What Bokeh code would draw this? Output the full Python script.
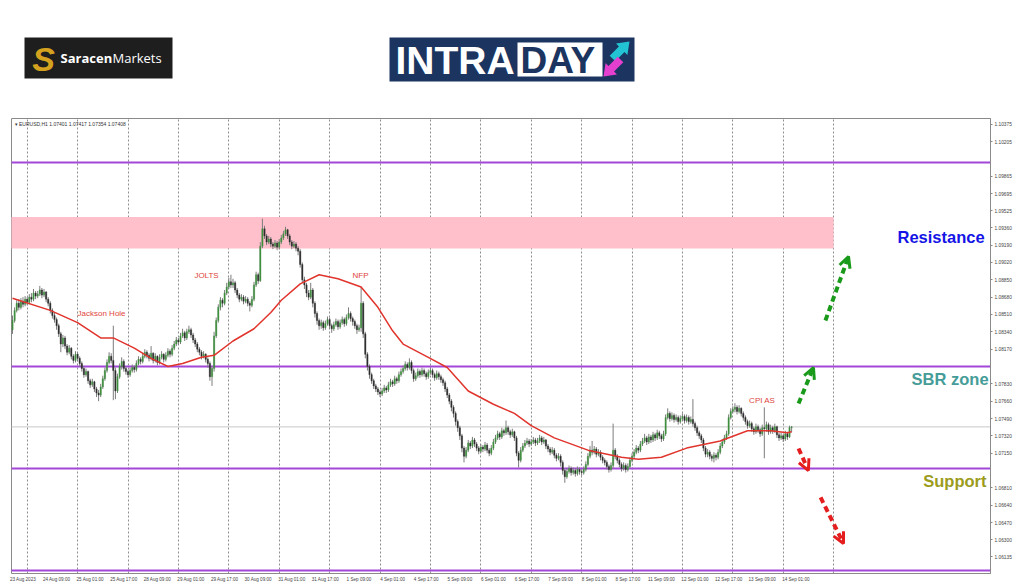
from bokeh.plotting import figure
from bokeh.layouts import column
from bokeh.models import (Range1d, FixedTicker, PrintfTickFormatter, Label, Arrow,
                          OpenHead, ColumnDataSource)
from bokeh.embed import file_html
from bokeh.resources import INLINE
from bokeh.core.properties import value

# ---------------- data (EURUSD H1, prices in pips above 1.0600) ----------------
BASE = 1.06
PIP = 0.0001

open_pips = [
 236,245,255,262,258,264,261,266,263,268, 266,272,269,271,275,270,273,266,262,255,
 250,246,240,232,222,228,220,214,218,210, 206,212,208,203,198,192,195,186,182,185,
 178,174,172,180,188,196,204,210,206,196, 176,190,200,205,198,195,192,196,199,197,
 203,207,205,210,214,211,208,213,206,210, 204,209,212,207,211,215,212,218,222,226,
 224,230,233,228,234,236,231,226,222,217, 214,210,212,207,203,190,198,230,245,258,
 265,262,272,278,283,280,282,275,270,266, 268,264,266,262,260,266,280,290,284,318,
 335,328,322,325,320,318,321,317,322,326, 330,334,328,322,318,320,316,313,300,285,
 280,272,268,275,262,252,245,240,243,238, 242,246,240,237,241,244,239,243,246,242,
 248,252,247,244,240,236,238,262,232,212, 200,192,186,181,178,175,173,176,179,177,
 182,185,183,188,186,192,195,198,202,199, 204,196,188,191,195,192,196,193,190,194,
 196,192,189,193,190,187,184,178,172,166, 160,154,146,140,132,120,112,118,125,122,
 128,124,120,117,121,119,123,118,115,120, 126,130,134,131,137,135,140,136,133,136,
 130,115,108,118,122,125,127,124,126,128, 125,127,130,126,128,122,119,116,118,113,
 110,112,106,98,92,97,100,96,98,95, 99,97,96,99,104,112,118,116,119,114,
 116,111,108,106,102,99,103,118,112,108, 104,100,103,99,102,108,112,116,120,118,
 124,127,130,126,131,128,133,130,135,132, 129,134,150,154,149,152,148,150,146,149,
 151,147,150,146,148,144,140,135,132,128, 120,114,116,112,110,113,111,116,122,126,
 130,134,150,156,158,160,156,159,154,150, 146,142,144,139,136,141,138,134,140,139,
 143,136,140,137,141,133,130,132,129,134, 131,140.1]

close_pips = [
 245,255,262,258,264,261,266,263,268,266, 272,269,271,275,270,273,266,262,255,250,
 246,240,232,222,228,220,214,218,210,206, 212,208,203,198,192,195,186,182,185,178,
 174,172,180,188,196,204,210,206,196,176, 190,200,205,198,195,192,196,199,197,203,
 207,205,210,214,211,208,213,206,210,204, 209,212,207,211,215,212,218,222,226,224,
 230,233,228,234,236,231,226,222,217,214, 210,212,207,203,190,198,230,245,258,265,
 262,272,278,283,280,282,275,270,266,268, 264,266,262,260,266,280,290,284,318,335,
 328,322,325,320,318,321,317,322,326,330, 334,328,322,318,320,316,313,300,285,280,
 272,268,275,262,252,245,240,243,238,242, 246,240,237,241,244,239,243,246,242,248,
 252,247,244,240,236,238,262,232,212,200, 192,186,181,178,175,173,176,179,177,182,
 185,183,188,186,192,195,198,202,199,204, 196,188,191,195,192,196,193,190,194,196,
 192,189,193,190,187,184,178,172,166,160, 154,146,140,132,120,112,118,125,122,128,
 124,120,117,121,119,123,118,115,120,126, 130,134,131,137,135,140,136,133,136,130,
 115,108,118,122,125,127,124,126,128,125, 127,130,126,128,122,119,116,118,113,110,
 112,106,98,92,97,100,96,98,95,99, 97,96,99,104,112,118,116,119,114,116,
 111,108,106,102,99,103,118,112,108,104, 100,103,99,102,108,112,116,120,118,124,
 127,130,126,131,128,133,130,135,132,129, 134,150,154,149,152,148,150,146,149,151,
 147,150,146,148,144,140,135,132,128,120, 114,116,112,110,113,111,116,122,126,130,
 134,150,156,158,160,156,159,154,150,146, 142,144,139,136,141,138,134,140,139,143,
 136,140,137,141,133,130,132,129,134,131, 140.1,140.8]

high_pips = [
 250,258,265,266,267,268,269,268,271,272, 276,274,274,279,277,276,274,268,264,257,
 253,248,242,234,231,230,222,221,219,212, 215,214,210,205,200,198,196,188,188,186,
 180,177,183,191,199,207,214,213,240,199, 193,203,209,207,200,197,199,202,201,206,
 210,209,213,217,216,213,220,214,213,211, 212,215,213,214,218,217,221,225,229,228,
 233,237,235,237,240,238,233,228,224,219, 216,215,213,209,205,200,234,248,261,268,
 267,275,282,287,290,286,284,277,272,271, 270,269,268,264,269,283,293,292,322,345,
 338,330,328,327,322,324,323,325,329,333, 337,335,330,324,323,322,318,315,302,288,
 282,275,282,277,264,254,247,246,245,245, 249,248,242,244,247,246,246,249,248,251,
 258,254,249,246,242,241,278,264,234,214, 202,194,188,183,180,177,179,182,181,185,
 188,187,191,190,195,198,201,205,204,208, 206,198,194,198,197,199,198,195,197,199,
 198,194,196,195,192,189,186,180,174,168, 162,156,148,142,134,122,121,128,127,131,
 130,126,122,124,123,126,125,120,123,129, 133,137,136,140,139,147,142,138,139,137,
 132,117,121,125,128,130,129,129,131,130, 130,133,132,131,129,124,121,121,120,115,
 115,114,108,100,100,103,102,101,100,102, 101,99,102,107,115,122,127,122,121,119,
 118,113,110,108,104,106,144,120,114,110, 106,106,105,105,111,115,119,123,122,127,
 130,134,132,134,133,136,135,138,137,134, 137,153,159,156,155,154,153,152,152,154,
 153,153,152,151,168,146,142,137,134,130, 122,119,118,114,116,115,119,125,129,133,
 137,153,159,161,164,162,162,160,156,152, 148,147,146,141,144,143,140,143,160,146,
 145,143,142,144,142,135,135,134,137,136, 142,141.7]

low_pips = [
 232,243,253,255,256,258,259,260,261,263, 264,266,267,269,267,268,263,259,252,247,
 243,236,229,214,219,217,211,212,207,203, 204,205,200,195,189,190,183,179,180,175,
 170,166,170,178,186,194,202,203,167,168, 174,188,197,195,192,189,190,194,194,195,
 201,202,203,208,208,205,206,203,204,201, 202,207,204,205,209,209,210,216,220,221,
 222,228,225,226,232,228,223,219,214,211, 207,208,204,199,186,181,195,228,243,255,
 258,260,270,276,277,277,272,267,263,264, 261,262,259,254,258,264,278,281,283,316,
 325,319,320,317,315,316,314,315,320,324, 328,325,319,315,316,313,309,297,282,276,
 268,265,266,258,248,241,236,237,235,236, 240,237,233,235,239,236,237,241,239,240,
 246,244,240,237,232,234,234,228,208,196, 188,183,178,175,172,170,171,174,174,175,
 180,180,181,183,184,190,193,196,196,197, 193,185,186,189,189,190,190,187,188,192,
 189,186,187,187,184,181,175,169,163,156, 150,142,136,128,116,106,110,116,119,120,
 121,117,114,115,116,117,115,112,113,118, 124,128,128,129,132,133,133,130,131,127,
 112,101,106,116,120,123,121,122,124,122, 123,125,123,124,119,116,113,114,110,107,
 108,102,94,86,90,95,93,94,92,93, 94,93,94,97,102,110,113,114,111,112,
 108,105,103,99,96,97,100,109,105,101, 97,98,96,97,100,106,110,114,115,116,
 122,125,123,124,125,126,127,128,129,126, 127,132,148,146,147,145,146,143,144,147,
 144,145,143,144,141,137,132,129,125,117, 111,111,109,107,106,108,109,114,120,124,
 128,132,148,154,155,153,154,151,147,143, 139,140,136,133,134,135,131,132,110,136,
 133,134,134,135,130,127,128,126,127,128, 130,135.4]

# moving average
ma_bars = [0,18,31,42,48,58,66,74,81,90,96,105,115,123,128,137,146,155,166,174,181,
           186,198,207,217,229,239,247,258,274,290,298,309,321,337,350,361,369,371]
ma_pips = [267,255,243,228,228,218,208,200,203,209,211,225,237,253,265,281,290,286,278,258,235,
           222,209,199,176,163,154,142,130,118,111,109,111,120,127,137,137,135,136]

# axis labels
x_label_bars = list(range(0, 369, 16))
x_labels = ["23 Aug 2023", "24 Aug 09:00", "25 Aug 01:00", "25 Aug 17:00", "28 Aug 09:00",
            "29 Aug 01:00", "29 Aug 17:00", "30 Aug 09:00", "31 Aug 01:00", "31 Aug 17:00",
            "1 Sep 09:00", "4 Sep 01:00", "4 Sep 17:00", "5 Sep 09:00", "6 Sep 01:00",
            "6 Sep 17:00", "7 Sep 09:00", "8 Sep 01:00", "8 Sep 17:00", "11 Sep 09:00",
            "12 Sep 01:00", "12 Sep 17:00", "13 Sep 09:00", "14 Sep 01:00"]
day_sep_bars = list(range(7, 392, 24))
y_ticks = [1.10375, 1.10205, 1.09865, 1.09695, 1.09525, 1.09360, 1.09190, 1.09020, 1.08850,
           1.08680, 1.08510, 1.08340, 1.08170, 1.07830, 1.07660, 1.07490, 1.07320, 1.07150,
           1.06810, 1.06640, 1.06470, 1.06300, 1.06135]

key_levels = [1.10000, 1.08000, 1.07000, 1.06000]
last_price = 1.07408
zone_low, zone_high, zone_end_bar = 1.09157, 1.09466, 391

event_names = ["Jackson Hole", "JOLTS", "NFP", "CPI AS"]
event_bars = [42.4, 92.4, 165.7, 357.0]
event_levels = [1.08520, 1.08892, 1.08892, 1.07665]

zone_names = ["Resistance", "SBR zone", "Support"]
zone_colors = ["#1414e6", "#459c98", "#9c9c1c"]
zone_levels = [1.09274, 1.07882, 1.06882]
zone_right_bar = [462.9, 464.8, 463.8]

arrow_x0 = [387.1, 374.3, 374.3, 384.8]
arrow_y0 = [1.08451, 1.07637, 1.07196, 1.06716]
arrow_x1 = [398.1, 381.4, 379.0, 395.7]
arrow_y1 = [1.09078, 1.07990, 1.06980, 1.06265]
arrow_colors = ["#1a9a1a", "#1a9a1a", "#e41e1e", "#e41e1e"]

header = "\u25be EURUSD,H1  1.07401 1.07417 1.07354 1.07408"

# ---------------- layout constants (page pixels) ----------------
W = 1022
LOGO_H = 100
CHART_H = 486
BORDER_L, BORDER_R = 11, 32

# ---------------- chart ----------------
p = figure(width=W, height=CHART_H, output_backend="svg", toolbar_location=None,
           x_range=Range1d(-0.476, 465.7), y_range=Range1d(1.059706, 1.104314),
           y_axis_location="right", min_border_left=BORDER_L, min_border_right=BORDER_R,
           min_border_top=18, min_border_bottom=13)
p.background_fill_color = "white"
p.outline_line_color = "#8a8a8a"
p.ygrid.visible = False
p.xgrid.ticker = FixedTicker(ticks=day_sep_bars)
p.xgrid.grid_line_color = "#8c8c8c"
p.xgrid.grid_line_dash = "2 2"
p.xgrid.grid_line_width = 1

tick_pos = [b + 5 for b in x_label_bars]
p.xaxis.ticker = FixedTicker(ticks=tick_pos)
p.xaxis.major_label_overrides = {t: l for t, l in zip(tick_pos, x_labels)}
p.xaxis.major_label_text_font = "Liberation Sans"
p.xaxis.major_label_text_font_size = "4.6px"
p.xaxis.major_label_text_color = "#444444"
p.xaxis.major_tick_out = 0
p.xaxis.major_tick_in = 0
p.xaxis.minor_tick_out = 0
p.xaxis.minor_tick_in = 0
p.xaxis.major_tick_line_color = None
p.xaxis.minor_tick_line_color = None
p.xaxis.axis_line_color = None
p.xaxis.major_label_standoff = 3

p.yaxis.ticker = FixedTicker(ticks=y_ticks)
p.yaxis.formatter = PrintfTickFormatter(format="%.5f")
p.yaxis.major_label_text_font = "Liberation Sans"
p.yaxis.major_label_text_font_size = "4.8px"
p.yaxis.major_label_text_color = "#444444"
p.yaxis.major_tick_out = 2
p.yaxis.major_tick_in = 0
p.yaxis.minor_tick_out = 0
p.yaxis.minor_tick_in = 0
p.yaxis.major_tick_line_color = "#888888"
p.yaxis.minor_tick_line_color = None
p.yaxis.axis_line_color = "#8a8a8a"
p.yaxis.major_label_standoff = 2

# resistance zone
p.quad(left=[-1], right=[zone_end_bar], bottom=[zone_low], top=[zone_high],
       fill_color="#ffc0cb", line_color=None)

# key levels and last price line
for lv in key_levels:
    p.line(x=[-1, 470], y=[lv, lv], line_color="#a347d9", line_width=2)
p.line(x=[-1, 470], y=[last_price, last_price], line_color="#c8c8c8", line_width=1)

# candles
n = len(close_pips)
bars = list(range(n))
o = [BASE + v * PIP for v in open_pips]
c = [BASE + v * PIP for v in close_pips]
h = [BASE + v * PIP for v in high_pips]
l = [BASE + v * PIP for v in low_pips]
src = ColumnDataSource(dict(
    x=bars, o=o, c=c, h=h, l=l,
    top=[max(a, b) for a, b in zip(o, c)],
    bot=[min(a, b) for a, b in zip(o, c)],
    col=["#3f8f3f" if b >= a else "#2e2e2e" for a, b in zip(o, c)]))
p.segment(x0="x", y0="l", x1="x", y1="h", source=src, line_color="#7c7c7c", line_width=1)
p.vbar(x="x", top="top", bottom="bot", width=0.62, source=src,
       fill_color="col", line_color="col", line_width=0.4)

# moving average
p.line(x=ma_bars, y=[BASE + v * PIP for v in ma_pips], line_color="#e0342c", line_width=1.5)

# event labels
for name, bx, lv in zip(event_names, event_bars, event_levels):
    p.add_layout(Label(x=bx, y=lv, text=name, text_align="center", text_baseline="middle",
                       text_font="Liberation Sans", text_font_size="8px", text_color="#e0453c"))

# zone titles
for name, col, lv, bx in zip(zone_names, zone_colors, zone_levels, zone_right_bar):
    p.add_layout(Label(x=bx, y=lv, text=name, text_align="right", text_baseline="middle",
                       text_font="Liberation Sans", text_font_style="bold",
                       text_font_size="16.5px", text_color=col))

# arrows
for x0, y0, x1, y1, col in zip(arrow_x0, arrow_y0, arrow_x1, arrow_y1, arrow_colors):
    p.add_layout(Arrow(x_start=x0, y_start=y0, x_end=x1, y_end=y1,
                       line_color=col, line_width=4, line_dash="6 4",
                       end=OpenHead(size=11, line_color=col, line_width=3)))

# header text
p.add_layout(Label(x=1.0, y=1.10382, text=header, text_baseline="middle",
                   text_font="Liberation Sans", text_font_size="5px", text_color="#333333"))

# highlighted price labels on the right axis
lab_x = W - BORDER_R + 1
for lv in key_levels:
    p.add_layout(Label(x=lab_x, x_units="canvas", y=lv, text="%.5f" % lv,
                       text_baseline="middle", text_font="Liberation Sans",
                       text_font_size="4.8px", text_color="white",
                       background_fill_color="#a347d9", padding=1))
p.add_layout(Label(x=lab_x, x_units="canvas", y=last_price, text="%.5f" % last_price,
                   text_baseline="middle", text_font="Liberation Sans",
                   text_font_size="4.8px", text_color="white",
                   background_fill_color="#111111", padding=1))

# ---------------- logos (data units = page pixels) ----------------
q = figure(width=W, height=LOGO_H, output_backend="svg", toolbar_location=None,
           x_range=Range1d(BORDER_L, W - BORDER_R), y_range=Range1d(LOGO_H, 0),
           min_border_left=BORDER_L, min_border_right=BORDER_R,
           min_border_top=0, min_border_bottom=0, outline_line_color=None)
q.axis.visible = False
q.grid.visible = False

q.quad(left=[24], right=[172], top=[37], bottom=[78], fill_color="#1e1e1e", line_color=None)
q.text(x=[43], y=[58], text=["S"], text_align="center", text_baseline="middle",
       text_font=value("Liberation Sans"), text_font_style="bold italic",
       text_font_size="34px", text_color="#d4a21f")
q.text(x=[60], y=[57], text=["Saracen"], text_baseline="middle",
       text_font=value("Open Sans"), text_font_style="bold",
       text_font_size="13px", text_color="white")
q.text(x=[112], y=[57], text=["Markets"], text_baseline="middle",
       text_font=value("Open Sans"), text_font_size="13px", text_color="white")

q.quad(left=[389], right=[634], top=[37], bottom=[81], fill_color="#1b3560", line_color=None)
q.text(x=[395], y=[59.5], text=["INTRA"], text_baseline="middle",
       text_font=value("Liberation Sans"), text_font_style="bold",
       text_font_size="39px", text_color="white")
q.quad(left=[517], right=[602], top=[42], bottom=[76], fill_color="white", line_color=None)
q.text(x=[520], y=[59.5], text=["DAY"], text_baseline="middle",
       text_font=value("Liberation Sans"), text_font_style="bold",
       text_font_size="37px", text_color="#1b3560")
cyan_x = [629, 626.9, 624.0, 614.8, 609.2, 618.4, 615.5]
cyan_y = [41, 54.5, 51.6, 60.8, 55.2, 46.0, 43.1]
mag_x = [603, 616.5, 613.6, 622.8, 617.2, 608.0, 605.1]
mag_y = [76, 73.9, 71.0, 61.8, 56.2, 65.4, 62.5]
q.patch(x=cyan_x, y=cyan_y, fill_color="#22c3d3", line_color=None)
q.patch(x=mag_x, y=mag_y, fill_color="#e53fd0", line_color=None)

layout = column(q, p, spacing=0)
open("out.html", "w").write(file_html(layout, INLINE))
